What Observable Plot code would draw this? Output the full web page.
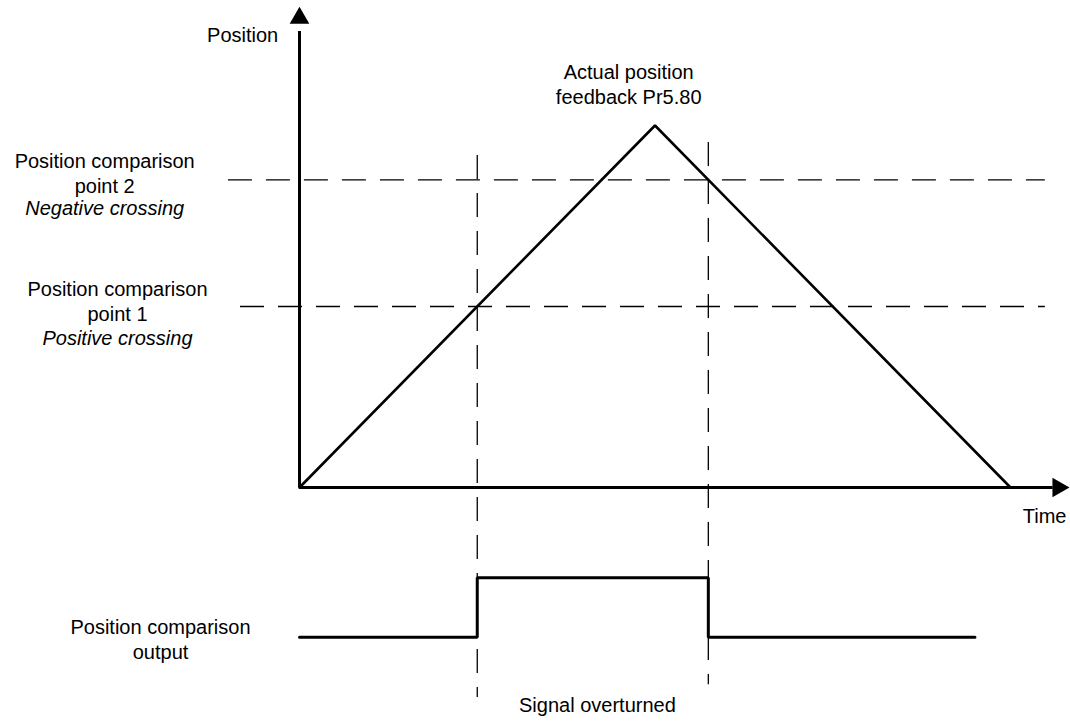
<!DOCTYPE html>
<html>
<head>
<meta charset="utf-8">
<script src="https://cdn.jsdelivr.net/npm/d3@7"></script>
<script src="https://cdn.jsdelivr.net/npm/@observablehq/plot@0.6"></script>
<style>
  html, body { margin: 0; padding: 0; background: #fff; }
  #chart svg { display: block; }
</style>
</head>
<body>
<div id="chart"></div>
<script>
// ---- data ----
const positionTime = [0, 5, 10];          // actual position feedback (Pr5.80)
const positionValue = [0, 100, 0];
const comparisonLevels = [50, 85];        // point 1 (positive crossing), point 2 (negative crossing)
const crossingTimes = [2.5, 5.75];        // where the output signal toggles
const signalTime = [0, 2.5, 2.5, 5.75, 5.75, 9.5];
const signalState = [0, 0, 1, 1, 0, 0];   // position comparison output (low/high)

const posData = positionTime.map((t, i) => ({t, v: positionValue[i]}));
const sigData = signalTime.map((t, i) => ({t, s: signalState[i]}));

// signal band placed below the time axis (in position-scale units)
const SIG_LOW = -41.4, SIG_HIGH = -24.9;
const sigY = d => SIG_LOW + d.s * (SIG_HIGH - SIG_LOW);

const FONT = "Arial, 'Liberation Sans', Helvetica, sans-serif";

const chart = Plot.plot({
  width: 1070,
  height: 722,
  margin: 0,
  x: {domain: [0, 10], range: [299, 1010], axis: null},
  y: {domain: [0, 100], range: [487, 125], axis: null},
  style: {fontFamily: FONT, fontSize: "20px", background: "white", color: "black", overflow: "visible"},
  marks: [
    // comparison levels (dashed horizontals)
    Plot.ruleY(comparisonLevels, {
      y: d => d,
      x1: (d, i) => i === 0 ? -0.83 : -1.0,
      x2: 10.49,
      stroke: "black", strokeWidth: 1.3, strokeDasharray: "24,14"
    }),
    // crossing verticals (dashed)
    Plot.ruleX(crossingTimes, {
      x: d => d,
      y1: (d, i) => i === 0 ? 91.7 : 95.3,
      y2: (d, i) => i === 0 ? -58 : -54.5,
      stroke: "black", strokeWidth: 1.3, strokeDasharray: "24,14"
    }),
    // axes
    Plot.ruleX([0], {y1: 0, y2: 126, stroke: "black", strokeWidth: 3}),
    Plot.ruleY([0], {x1: 0, x2: 10.6, stroke: "black", strokeWidth: 3}),
    Plot.dot([{t: 0, v: 129.7}], {x: "t", y: "v", symbol: "triangle", r: 7.3, fill: "black", stroke: "none"}),
    Plot.dot([{t: 10.67, v: 0}], {x: "t", y: "v", symbol: "triangle", r: 7.3, rotate: 90, fill: "black", stroke: "none"}),
    // actual position feedback
    Plot.line(posData, {x: "t", y: "v", stroke: "black", strokeWidth: 2.6, strokeLinejoin: "miter"}),
    // output signal
    Plot.line(sigData, {x: "t", y: sigY, stroke: "black", strokeWidth: 3, strokeLinejoin: "miter", curve: "linear"}),
    // labels
    Plot.text(["Position"], {x: -0.8, y: 124.9, text: d => d, fontSize: 20}),
    Plot.text(["Actual position\nfeedback Pr5.80"], {x: 4.63, y: 111.7, text: d => d, fontSize: 20, lineHeight: 1.25}),
    Plot.text(["Position comparison\npoint 2"], {x: -2.74, y: 86.9, text: d => d, fontSize: 20, lineHeight: 1.25}),
    Plot.text(["Negative crossing"], {x: -2.74, y: 77.1, text: d => d, fontSize: 20, fontStyle: "italic"}),
    Plot.text(["Position comparison\npoint 1"], {x: -2.56, y: 51.7, text: d => d, fontSize: 20, lineHeight: 1.25}),
    Plot.text(["Positive crossing"], {x: -2.56, y: 41.2, text: d => d, fontSize: 20, fontStyle: "italic"}),
    Plot.text(["Time"], {x: 10.48, y: -8.0, text: d => d, fontSize: 20}),
    Plot.text(["Position comparison\noutput"], {x: -1.955, y: -41.7, text: d => d, fontSize: 20, lineHeight: 1.25}),
    Plot.text(["Signal overturned"], {x: 4.19, y: -60.2, text: d => d, fontSize: 20})
  ]
});

document.getElementById("chart").appendChild(chart);
</script>
</body>
</html>
